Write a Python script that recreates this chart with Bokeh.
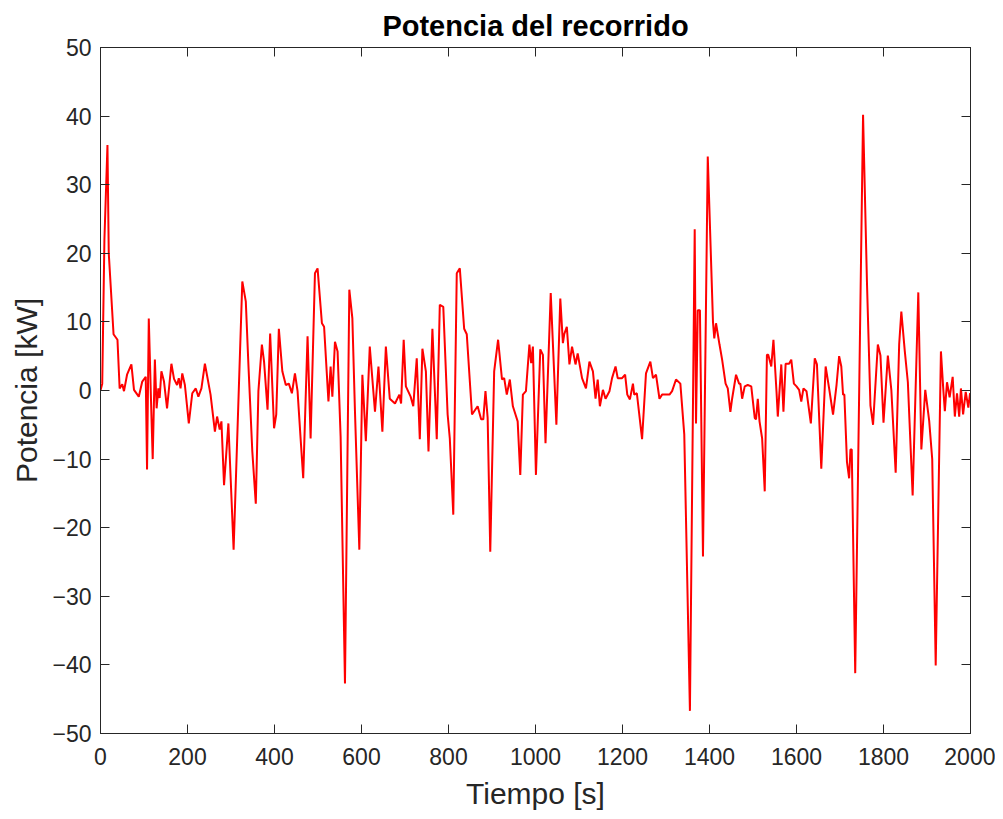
from bokeh.plotting import figure
from bokeh.models import LinearAxis, FixedTicker, Range1d
from bokeh.embed import file_html
from bokeh.resources import INLINE

# Data (time in s, power in kW)
tiempo = [0, 4, 9, 16, 19, 30, 39, 44, 50, 54, 61, 71, 77, 88, 96, 104, 107, 111, 117, 120,
          125, 129, 133, 136, 140, 146, 153, 163, 169, 176, 180, 184, 188, 194, 203, 211, 219, 225, 232, 240,
          253, 263, 268, 274, 278, 284, 294, 306, 318, 326, 334, 340, 349, 357, 363, 371, 376, 384, 390, 399,
          404, 410, 418, 426, 433, 440, 447, 453, 460, 466, 476, 483, 493, 499, 509, 514, 524, 529, 533, 539,
          545, 552, 562, 572, 579, 585, 595, 602, 610, 619, 631, 639, 648, 656, 665, 677, 687, 691, 697, 702,
          713, 719, 727, 734, 740, 748, 754, 763, 773, 780, 788, 798, 803, 811, 819, 826, 836, 842, 854, 867,
          875, 880, 885, 890, 896, 905, 914, 923, 928, 934, 941, 948, 954, 959, 965, 971, 978, 986, 990, 994,
          1001, 1011, 1017, 1023, 1035, 1048, 1057, 1063, 1066, 1072, 1078, 1084, 1092, 1097, 1107, 1116, 1124, 1132, 1138, 1143,
          1148, 1155, 1161, 1170, 1176, 1184, 1189, 1199, 1206, 1211, 1217, 1224, 1227, 1233, 1245, 1254, 1264, 1270, 1277, 1285,
          1291, 1300, 1308, 1314, 1323, 1333, 1342, 1355, 1366, 1369, 1373, 1378, 1385, 1396, 1408, 1411, 1415, 1423, 1429, 1437,
          1442, 1448, 1452, 1461, 1468, 1471, 1475, 1481, 1488, 1496, 1504, 1507, 1511, 1515, 1521, 1527, 1532, 1535, 1542, 1547,
          1554, 1557, 1565, 1570, 1575, 1583, 1588, 1594, 1600, 1606, 1611, 1616, 1623, 1633, 1642, 1647, 1657, 1667, 1675, 1684,
          1692, 1698, 1703, 1707, 1710, 1716, 1721, 1724, 1727, 1735, 1753, 1762, 1770, 1776, 1787, 1793, 1800, 1810, 1818, 1828,
          1836, 1841, 1849, 1856, 1867, 1880, 1887, 1896, 1905, 1912, 1920, 1932, 1937, 1941, 1946, 1952, 1959, 1964, 1969, 1974,
          1978, 1983, 1989, 1995, 1999]

potencia = [0, 1, 22, 35.8, 20, 8.2, 7.4, 0.3, 0.9, -0.1, 2.3, 3.8, 0.1, -0.9, 1.3, 2, -11.5, 10.5, -3.5, -10,
            4.5, -2.6, 0.3, -1.1, 2.8, 1.3, -2.6, 3.9, 1.7, 0.8, 1.8, 0.3, 2.5, 0.8, -4.8, -0.4, 0.3, -0.9, 0.3, 3.9,
            -0.6, -6, -3.8, -5.7, -4.5, -13.8, -4.8, -23.2, 0.3, 15.9, 13, 3.8, -8.9, -16.5, -0.1, 6.7, 4.2, -2.8, 8.3, -5.5,
            -3.5, 9, 2.8, 0.8, 1, -0.4, 2.5, -0.1, -7, -12.8, 7.9, -7, 17.1, 17.8, 9.8, 9.3, -1.6, 3.5, -0.9, 7.1,
            5.7, -6.7, -42.7, 14.7, 10.5, -3.1, -23.2, 2.3, -7.4, 6.4, -3.1, 3.5, -6, 6.4, -1.2, -1.9, -0.6, -1.9, 7.4, 0.6,
            -0.9, -2.3, 4.7, -7.1, 6.1, 2.8, -8.9, 9, -7.1, 12.5, 12.2, -3.5, -7, -18.1, 17.1, 17.8, 9, 8.2, -3.5, -2.3,
            -4.2, -4.2, -0.1, -4, -23.5, 2.8, 7.4, 1.6, 1.8, -0.6, 1.6, -2.3, -3.5, -4.5, -12.3, -0.6, -0.1, 6.7, 4, 6.4,
            -12.3, 6, 5.2, -7.7, 14.2, -5, 13.4, 6.9, 8.2, 9.3, 3.8, 6.4, 3.8, 5.4, 1.8, 0.3, 4.2, 2.8, -1.2, 1.6,
            -2.3, 0.1, -1.2, -0.1, 1.8, 3.5, 1.8, 1.8, 2.3, -0.6, -1.3, 1, -0.6, -0.4, -7.1, 2.5, 4.2, 1.8, 2.3, -1.2,
            -0.6, -0.6, -0.6, -0.1, 1.6, 1, -6.4, -46.7, 23.5, -4.8, 11.7, 11.7, -24.2, 34.1, 10, 7.6, 9.8, 6.7, 4.5, 1,
            0.3, -3.1, -1.2, 2.3, 1, 1, -1.2, 0.6, 0.8, 0.6, -4, -4.2, -1.2, -4.5, -7, -14.7, 5.2, 5.2, 3.5, 7.4,
            -0.1, -3.8, 3.8, -3.1, 3.9, 3.9, 4.5, 1, 0.6, 0.1, -1.6, 0.3, -0.1, -4.8, 4.7, 3.8, -11.4, 3.5, 0.3, -3.5,
            0.8, 5, 3.5, -0.6, -0.6, -10.4, -12.8, -8.6, -8.6, -41.2, 40.2, 15.7, -2.2, -5, 6.7, 5.1, -4.7, 5.1, 0.1, -12,
            6.7, 11.5, 5.7, 1.2, -15.3, 14.3, -8.6, 0.1, -4.4, -10, -40.1, 5.7, 0.6, -3, 1.2, -1, 2, -3.8, -0.4, -3.8,
            0.3, -3.5, -0.2, -2.5, -0.4]

x_ticks = [0, 200, 400, 600, 800, 1000, 1200, 1400, 1600, 1800, 2000]
y_ticks = [-50, -40, -30, -20, -10, 0, 10, 20, 30, 40, 50]

FONT = "Liberation Sans"
AXC = "#262626"

p = figure(frame_width=870, frame_height=686, output_backend="svg", toolbar_location=None,
           x_range=Range1d(0, 2000), y_range=Range1d(-50, 50),
           min_border_left=100, min_border_right=25, min_border_top=47, min_border_bottom=40,
           title="Potencia del recorrido")

p.line(tiempo, potencia, line_color="#FF0000", line_width=2)

p.title.align = "center"
p.title.text_font = FONT
p.title.text_font_size = "29px"
p.title.text_font_style = "bold"
p.title.text_color = "#000000"
p.title.standoff = 12
p.title.offset = 0

p.grid.visible = False
p.outline_line_color = AXC
p.outline_line_width = 1
p.background_fill_color = "white"
p.border_fill_color = "white"

def style_axis(ax, ticks, show_labels=True):
    ax.ticker = FixedTicker(ticks=ticks)
    ax.major_tick_in = 9
    ax.major_tick_out = 0
    ax.minor_tick_line_color = None
    ax.major_tick_line_color = AXC
    ax.axis_line_color = AXC
    ax.major_label_text_font = FONT
    ax.major_label_text_font_size = "23px"
    ax.major_label_text_color = AXC
    ax.axis_label_text_font = FONT
    ax.axis_label_text_font_size = "30px"
    ax.axis_label_text_font_style = "normal"
    ax.axis_label_text_color = AXC
    if not show_labels:
        ax.major_label_overrides = {t: "" for t in ticks}
        ax.major_label_standoff = 0

style_axis(p.xaxis[0], x_ticks)
style_axis(p.yaxis[0], y_ticks)
p.xaxis[0].axis_label = "Tiempo [s]"
p.yaxis[0].axis_label = "Potencia [kW]"
p.xaxis[0].major_label_standoff = 14
p.yaxis[0].major_label_standoff = 9
p.xaxis[0].axis_label_standoff = 9
p.yaxis[0].axis_label_standoff = 6

top = LinearAxis()
style_axis(top, x_ticks, show_labels=False)
p.add_layout(top, "above")
right = LinearAxis()
style_axis(right, y_ticks, show_labels=False)
p.add_layout(right, "right")

open("out.html", "w").write(file_html(p, INLINE))
